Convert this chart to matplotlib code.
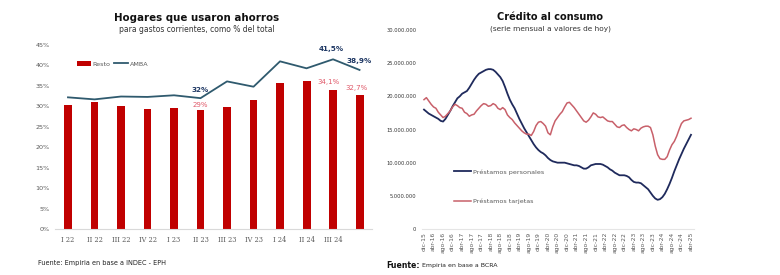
import matplotlib
matplotlib.use("Agg")
import matplotlib.pyplot as plt
import numpy as np
from matplotlib.ticker import FuncFormatter

plt.rcParams['font.family'] = ['DejaVu Sans']

# ---------------- Left chart data ----------------
quarters = ["I 22", "II 22", "III 22", "IV 22", "I 23", "II 23", "III 23",
            "IV 23", "I 24", "II 24", "III 24", ""]
resto = [30.3, 31.0, 30.1, 29.4, 29.7, 29.0, 29.8, 31.6, 35.7, 36.1, 34.1, 32.7]
amba = [32.2, 31.7, 32.4, 32.3, 32.7, 32.0, 36.1, 34.8, 41.0, 39.3, 41.5, 38.9]

# ---------------- Right chart data (millions) ----------------
month_labels = ["dic-15", "abr-16", "ago-16", "dic-16", "abr-17", "ago-17", "dic-17",
                "abr-18", "ago-18", "dic-18", "abr-19", "ago-19", "dic-19", "abr-20",
                "ago-20", "dic-20", "abr-21", "ago-21", "dic-21", "abr-22", "ago-22",
                "dic-22", "abr-23", "ago-23", "dic-23", "abr-24", "ago-24", "dic-24",
                "abr-25"]
personales = [18.0, 17.7, 17.4, 17.2, 17.0, 16.8, 16.6, 16.3, 16.2, 16.6,
              17.2, 17.8, 18.5, 19.1, 19.7, 20.0, 20.4, 20.6, 20.8, 21.3,
              21.9, 22.5, 23.0, 23.4, 23.6, 23.8, 24.0, 24.1, 24.1, 24.0,
              23.7, 23.3, 22.9, 22.3, 21.4, 20.4, 19.5, 18.8, 18.2, 17.4,
              16.6, 15.9, 15.2, 14.6, 14.0, 13.4, 12.8, 12.3, 11.9, 11.6,
              11.4, 11.1, 10.7, 10.4, 10.2, 10.1, 10.0, 10.0, 10.0, 10.0,
              9.9, 9.8, 9.7, 9.6, 9.6, 9.5, 9.3, 9.1, 9.1, 9.3,
              9.6, 9.7, 9.8, 9.8, 9.8, 9.7, 9.5, 9.3, 9.0, 8.8,
              8.5, 8.3, 8.1, 8.1, 8.1, 8.0, 7.8, 7.4, 7.1, 7.0,
              7.0, 6.9, 6.6, 6.3, 6.0, 5.5, 5.0, 4.6, 4.4, 4.5,
              4.8, 5.3, 6.0, 6.8, 7.7, 8.7, 9.6, 10.5, 11.3, 12.1,
              12.8, 13.5, 14.2]
tarjetas = [19.5, 19.8, 19.3, 18.8, 18.4, 18.2, 17.6, 17.2, 16.8, 17.0,
            17.4, 17.8, 18.4, 18.8, 18.6, 18.3, 18.2, 17.6, 17.4, 17.0,
            17.2, 17.3, 17.8, 18.2, 18.6, 18.9, 18.8, 18.5, 18.6, 18.9,
            18.7, 18.2, 18.0, 18.3, 18.0, 17.2, 16.8, 16.5, 16.0, 15.6,
            15.2, 14.8, 14.5, 14.3, 14.3, 14.1, 14.7, 15.6, 16.1, 16.2,
            15.9, 15.5, 14.5, 14.2, 15.4, 16.3, 16.8, 17.3, 17.7, 18.4,
            19.0, 19.1, 18.7, 18.3, 17.8, 17.3, 16.8, 16.3, 16.1, 16.4,
            16.9, 17.5, 17.3, 16.9, 16.8, 16.9, 16.6, 16.3, 16.2, 16.2,
            15.8, 15.4, 15.3, 15.6, 15.7, 15.3, 15.0, 14.8, 15.1, 15.0,
            14.8, 15.2, 15.4, 15.5, 15.5, 15.3, 14.2, 12.5, 11.2, 10.6,
            10.5, 10.5, 10.9, 11.9, 12.7, 13.2, 14.0, 15.0, 15.9, 16.3,
            16.4, 16.5, 16.7]

W, H = 780, 275
fig = plt.figure(figsize=(W / 100, H / 100), dpi=100)

def ax_rect(x0, x1, ytop, ybot):
    return [x0 / W, 1 - ybot / H, (x1 - x0) / W, (ybot - ytop) / H]

GRAY = "#595959"
RED = "#C00000"
AMBA_C = "#2F5A6E"
NAVY = "#1F3864"
LRED = "#E05A6A"

# ---------------- Left chart ----------------
ax1 = fig.add_axes(ax_rect(55, 372, 45, 229))
xq = np.arange(len(quarters))
bars = ax1.bar(xq, resto, width=0.3, color=RED, label="Resto", zorder=2)
line, = ax1.plot(xq, amba, color=AMBA_C, lw=1.3, label="AMBA", zorder=3)
ax1.set_xlim(-0.49, 11.47)
ax1.set_ylim(0, 45)
ax1.set_yticks(np.arange(0, 46, 5))
ax1.yaxis.set_major_formatter(FuncFormatter(lambda v, p: f"{int(v)}%"))
ax1.set_xticks(xq)
ax1.set_xticklabels(quarters, fontsize=4.8, color=GRAY, family="DejaVu Serif")
ax1.tick_params(axis='y', labelsize=4.6, colors=GRAY, length=0, pad=4)
ax1.tick_params(axis='x', length=0, pad=5)
for s in ["top", "right", "left"]:
    ax1.spines[s].set_visible(False)
ax1.spines["bottom"].set_color("#D9D9D9")
ax1.spines["bottom"].set_linewidth(0.8)
leg = ax1.legend(handles=[bars, line], labels=["Resto", "AMBA"],
                 loc="center left", bbox_to_anchor=(0.07, 0.897), ncol=2, frameon=False,
                 fontsize=4.6, handlelength=2.2, columnspacing=0.6, handletextpad=0.2,
                 borderaxespad=0, borderpad=0)
for t in leg.get_texts():
    t.set_color(GRAY)

ax1.annotate("32%", (5, amba[5]), xytext=(0, 4), textcoords="offset points",
             ha="center", va="bottom", fontsize=5.2, color=NAVY, fontweight="bold")
ax1.annotate("29%", (5, resto[5]), xytext=(0, 2), textcoords="offset points",
             ha="center", va="bottom", fontsize=5, color=LRED)
ax1.annotate("41,5%", (10, amba[10]), xytext=(-1, 5), textcoords="offset points",
             ha="center", va="bottom", fontsize=5.2, color=NAVY, fontweight="bold")
ax1.annotate("38,9%", (11, amba[11]), xytext=(0, 4), textcoords="offset points",
             ha="center", va="bottom", fontsize=5.2, color=NAVY, fontweight="bold")
ax1.annotate("34,1%", (10, resto[10]), xytext=(-3, 3), textcoords="offset points",
             ha="center", va="bottom", fontsize=5, color=LRED)
ax1.annotate("32,7%", (11, resto[11]), xytext=(-2, 3), textcoords="offset points",
             ha="center", va="bottom", fontsize=5, color=LRED)

fig.text(197 / W, 1 - 18 / H, "Hogares que usaron ahorros", ha="center", va="center",
         fontsize=7.4, fontweight="bold", color="#111111")
fig.text(197 / W, 1 - 30 / H, "para gastos corrientes, como % del total", ha="center",
         va="center", fontsize=5.5, color="#333333")
fig.text(38 / W, 1 - 263 / H, "Fuente: Empiria en base a INDEC - EPH", ha="left",
         va="center", fontsize=4.7, color="#222222")

# ---------------- Right chart ----------------
ax2 = fig.add_axes(ax_rect(422, 694, 30, 229))
xm = np.arange(len(personales))
ax2.plot(xm, np.array(personales) * 1e6, color="#1F2A5C", lw=1.3, label="Préstamos personales")
ax2.plot(xm, np.array(tarjetas) * 1e6, color="#C8606A", lw=1.1, label="Préstamos tarjetas")
ax2.set_xlim(-0.84, 113.26)
ax2.set_ylim(0, 30e6)
ax2.set_yticks(np.arange(0, 30.1e6, 5e6))
ax2.yaxis.set_major_formatter(FuncFormatter(
    lambda v, p: "0" if v == 0 else f"{int(round(v)):,}".replace(",", ".")))
ax2.set_xticks(np.arange(0, len(personales), 4))
ax2.set_xticklabels(month_labels, rotation=90, fontsize=4.3, color=GRAY)
ax2.tick_params(axis='y', labelsize=3.7, colors="#333333", length=0, pad=4)
ax2.tick_params(axis='x', length=0, pad=2)
for s in ["top", "right", "left"]:
    ax2.spines[s].set_visible(False)
ax2.spines["bottom"].set_color("#E5E5E5")
ax2.spines["bottom"].set_linewidth(0.8)
leg2 = ax2.legend(loc="upper left", bbox_to_anchor=(0.095, 0.33), frameon=False,
                  fontsize=4.6, handlelength=2.8, handletextpad=0.2, labelspacing=3.8)
for t in leg2.get_texts():
    t.set_color(GRAY)

fig.text(550 / W, 1 - 17 / H, "Crédito al consumo", ha="center", va="center",
         fontsize=7.0, fontweight="bold", color="#111111")
fig.text(550 / W, 1 - 29 / H, "(serie mensual a valores de hoy)", ha="center",
         va="center", fontsize=5.3, color="#333333")
t1 = fig.text(386 / W, 1 - 265 / H, "Fuente:", ha="left", va="center",
              fontsize=5.6, fontweight="bold", color="#111111")
fig.canvas.draw()
bb = t1.get_window_extent()
fig.text((bb.x1 + 2) / W, 1 - 265 / H, "Empiria en base a BCRA", ha="left", va="center",
         fontsize=4.5, color="#222222")

fig.savefig("out.png", dpi=100, facecolor="white")
